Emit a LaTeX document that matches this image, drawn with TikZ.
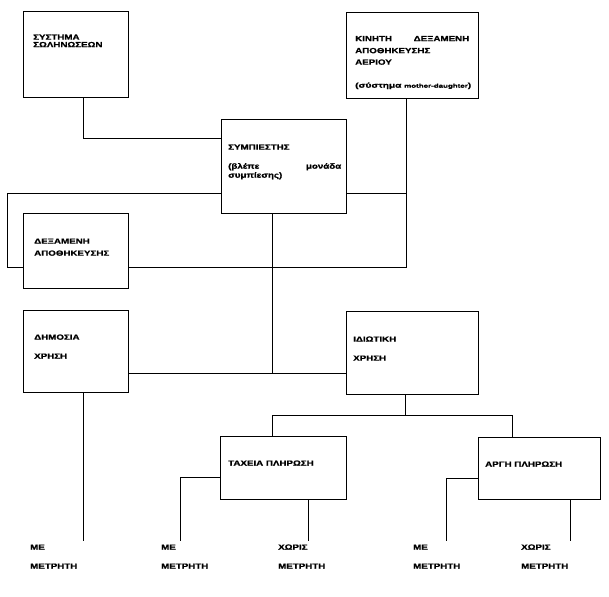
\documentclass[tikz,border=0pt]{standalone}
\usepackage{fontspec}
\usepackage{graphicx}
\newfontfamily\gk[FakeStretch=1.3, BoldFeatures={FakeBold=1.2}]{Liberation Sans}
\newfontfamily\gkn[BoldFeatures={FakeBold=1.2}]{Liberation Sans}
\begin{document}
\begin{tikzpicture}[x=1pt,y=-1pt,
  box/.style={draw, line width=1pt, anchor=north west, inner sep=0pt},
  lbl/.style={anchor=base west, inner sep=0pt, font=\gk\bfseries\fontsize{7.5}{9}\selectfont},
  ln/.style={line width=1pt}]
\path[use as bounding box, fill=white] (0,0) rectangle (609,596);

% boxes
\node[box, minimum width=105, minimum height=86] (sys) at (23,11) {};
\node[box, minimum width=125, minimum height=94] (comp) at (221,119) {};
\node[box, minimum width=132, minimum height=86] (kin) at (346,12) {};
\node[box, minimum width=105, minimum height=75] (dex) at (23,213) {};
\node[box, minimum width=105, minimum height=82] (dim) at (23,310) {};
\node[box, minimum width=132, minimum height=83] (idi) at (346,311) {};
\node[box, minimum width=126, minimum height=63] (tax) at (220,436) {};
\node[box, minimum width=122, minimum height=62] (arg) at (478,437) {};

% junction coordinates
\coordinate (j1) at (83,139);
\coordinate (j2) at (7,193);
\coordinate (j3) at (7,267);
\coordinate (j4) at (406,193);
\coordinate (j5) at (406,267);
\coordinate (j6) at (272,373);
\coordinate (j7) at (83,541);
\coordinate (j8) at (405,415);
\coordinate (j9) at (272,415);
\coordinate (j10) at (512,415);
\coordinate (j11) at (180,477);
\coordinate (j12) at (180,541);
\coordinate (j13) at (308,541);
\coordinate (j14) at (446,478);
\coordinate (j15) at (446,541);
\coordinate (j16) at (570,541);

% connectors
\draw[ln] (sys.south -| j1) -- (j1) -- (comp.west |- j1);
\draw[ln] (comp.west |- j2) -- (j2) -- (j3) -- (dex.west |- j3);
\draw[ln] (kin.south -| j4) -- (j5) -- (dex.east |- j5);
\draw[ln] (comp.east |- j4) -- (j4);
\draw[ln] (comp.south -| j6) -- (j6);
\draw[ln] (dim.east |- j6) -- (idi.west |- j6);
\draw[ln] (dim.south -| j7) -- (j7);
\draw[ln] (idi.south -| j8) -- (j8);
\draw[ln] (tax.north -| j9) -- (j9) -- (j10) -- (arg.north -| j10);
\draw[ln] (tax.west |- j11) -- (j11) -- (j12);
\draw[ln] (tax.south -| j13) -- (j13);
\draw[ln] (arg.west |- j14) -- (j14) -- (j15);
\draw[ln] (arg.south -| j16) -- (j16);

% texts
\node[lbl] (t1a) at (33,39.7) {ΣΥΣΤΗΜΑ};
\node[lbl] (t1b) at (33,47.2) {ΣΩΛΗΝΩΣΕΩΝ};

\node[lbl] (t2a) at (228,149.7) {ΣΥΜΠΙΕΣΤΗΣ};
\node[lbl] (t2b) at (228,168.7) {\makebox[113pt][s]{(βλέπε\hfill μονάδα}};
\node[lbl] (t2c) at (228,177.7) {συμπίεσης)};

\node[lbl] (t3a) at (355,41.2) {\makebox[114pt][s]{ΚΙΝΗΤΗ\hfill ΔΕΞΑΜΕΝΗ}};
\node[lbl] (t3b) at (355,53.2) {ΑΠΟΘΗΚΕΥΣΗΣ};
\node[lbl] (t3c) at (355,64.7) {ΑΕΡΙΟΥ};
\node[lbl] (t3d) at (355,87.7) {\resizebox{116pt}{\height}{\gkn\bfseries\fontsize{7}{8}\selectfont(σύστημα {\fontsize{5.5}{7}\selectfont mother-daughter})}};

\node[lbl] (t4a) at (34,243.7) {ΔΕΞΑΜΕΝΗ};
\node[lbl] (t4b) at (34,255.7) {ΑΠΟΘΗΚΕΥΣΗΣ};

\node[lbl] (t5a) at (34,339.7) {ΔΗΜΟΣΙΑ};
\node[lbl] (t5b) at (34,358.7) {ΧΡΗΣΗ};

\node[lbl] (t6a) at (353,341.7) {ΙΔΙΩΤΙΚΗ};
\node[lbl] (t6b) at (353,360.7) {ΧΡΗΣΗ};

\node[lbl] (t7) at (228,465.7) {ΤΑΧΕΙΑ ΠΛΗΡΩΣΗ};
\node[lbl] (t8) at (485,466.7) {ΑΡΓΗ ΠΛΗΡΩΣΗ};

\node[lbl] (b1a) at (30,549.7) {ΜΕ};
\node[lbl] (b1b) at (30,568.7) {ΜΕΤΡΗΤΗ};
\node[lbl] (b2a) at (161,549.7) {ΜΕ};
\node[lbl] (b2b) at (161,568.7) {ΜΕΤΡΗΤΗ};
\node[lbl] (b3a) at (278,549.7) {ΧΩΡΙΣ};
\node[lbl] (b3b) at (278,568.7) {ΜΕΤΡΗΤΗ};
\node[lbl] (b4a) at (413,549.7) {ΜΕ};
\node[lbl] (b4b) at (413,568.7) {ΜΕΤΡΗΤΗ};
\node[lbl] (b5a) at (521,549.7) {ΧΩΡΙΣ};
\node[lbl] (b5b) at (521,568.7) {ΜΕΤΡΗΤΗ};
\end{tikzpicture}
\end{document}
